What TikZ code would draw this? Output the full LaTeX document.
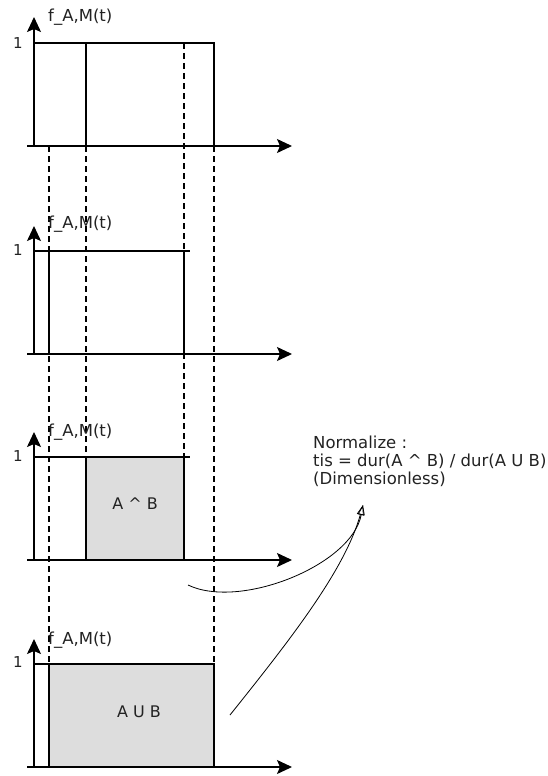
\documentclass[tikz,border=0pt]{standalone}
\usepackage{fontspec}
\setmainfont{DejaVu Sans}
\usetikzlibrary{arrows.meta}
\definecolor{boxfill}{HTML}{DDDDDD}
\definecolor{txt}{HTML}{222222}
\tikzset{
  axis/.style={line width=1.4pt,-{Stealth[length=15pt,width=14pt,inset=3pt]}},
  solid line/.style={line width=1.4pt},
  guide/.style={line width=1.1pt,dash pattern=on 6pt off 4pt},
  shaded/.style={fill=boxfill,draw=black,line width=1.4pt},
  ylab/.style={anchor=west,inner sep=0pt,text=txt,font=\fontsize{16.5}{19}\selectfont},
  onelab/.style={inner sep=0pt,text=txt,font=\fontsize{15}{17}\selectfont},
  setlab/.style={inner sep=0pt,text=txt,font=\fontsize{16}{19}\selectfont},
  note/.style={anchor=north west,inner sep=0pt,align=left,text=txt,font=\fontsize{16.5}{18}\selectfont},
  link/.style={line width=0.8pt,-{Triangle[open,length=10pt,width=7pt]}}
}
\begin{document}
\begin{tikzpicture}[x=1pt,y=-1pt]
\useasboundingbox (0,0) rectangle (547,776);

% vertical guide lines shared by the four plots
\draw[guide] (49,146) -- (49,664);
\draw[guide] (86,146) -- (86,457);
\draw[guide] (184,43) -- (184,457);
\draw[guide] (214,146) -- (214,664);

% ---- plot 1 : A
\draw[solid line] (34,43) -- (214,43) -- (214,146);
\draw[solid line] (86,43) -- (86,146);
\coordinate (o1) at (34,146);
\coordinate (y1) at (34,17);
\coordinate (s1) at (27,146);
\coordinate (x1) at (292,146);
\draw[axis] (o1) -- (y1);
\draw[axis] (s1) -- (x1);
\node[ylab] (l1) at (48,17) {f\_A,M(t)};
\node[onelab] (u1) at (18,43) {1};

% ---- plot 2 : B
\draw[solid line] (34,251) -- (190,251);
\draw[solid line] (49,251) -- (49,354);
\draw[solid line] (184,251) -- (184,354);
\coordinate (o2) at (34,354);
\coordinate (y2) at (34,226);
\coordinate (s2) at (27,354);
\coordinate (x2) at (292,354);
\draw[axis] (o2) -- (y2);
\draw[axis] (s2) -- (x2);
\node[ylab] (l2) at (48,224) {f\_A,M(t)};
\node[onelab] (u2) at (18,250) {1};

% ---- plot 3 : intersection
\draw[shaded] (86,457) rectangle (184,560);
\draw[solid line] (34,457) -- (190,457);
\coordinate (o3) at (34,560);
\coordinate (y3) at (34,432);
\coordinate (s3) at (27,560);
\coordinate (x3) at (292,560);
\draw[axis] (o3) -- (y3);
\draw[axis] (s3) -- (x3);
\node[ylab] (l3) at (48,432) {f\_A,M(t)};
\node[onelab] (u3) at (18,456) {1};
\node[setlab] (inter) at (135,504) {A \textasciicircum{} B};

% ---- plot 4 : union
\draw[shaded] (49,664) rectangle (214,767);
\draw[solid line] (34,664) -- (49,664);
\coordinate (o4) at (34,767);
\coordinate (y4) at (34,639);
\coordinate (s4) at (27,767);
\coordinate (x4) at (292,767);
\draw[axis] (o4) -- (y4);
\draw[axis] (s4) -- (x4);
\node[ylab] (l4) at (48,640) {f\_A,M(t)};
\node[onelab] (u4) at (18,662) {1};
\node[setlab] (union) at (139,712) {A U B};

% ---- normalisation note and links
\node[note] (norm) at (313,435.5) {Normalize :\\tis = dur(A \textasciicircum{} B) / dur(A U B)\\(Dimensionless)};
\coordinate (target) at (363,505);
\coordinate (fromI) at (188,585);
\coordinate (fromU) at (230,715);
\draw[link] (fromI) .. controls (240,610) and (352,565) .. (target);
\draw[link] (fromU) .. controls (290,640) and (345,570) .. (target);
\end{tikzpicture}
\end{document}
